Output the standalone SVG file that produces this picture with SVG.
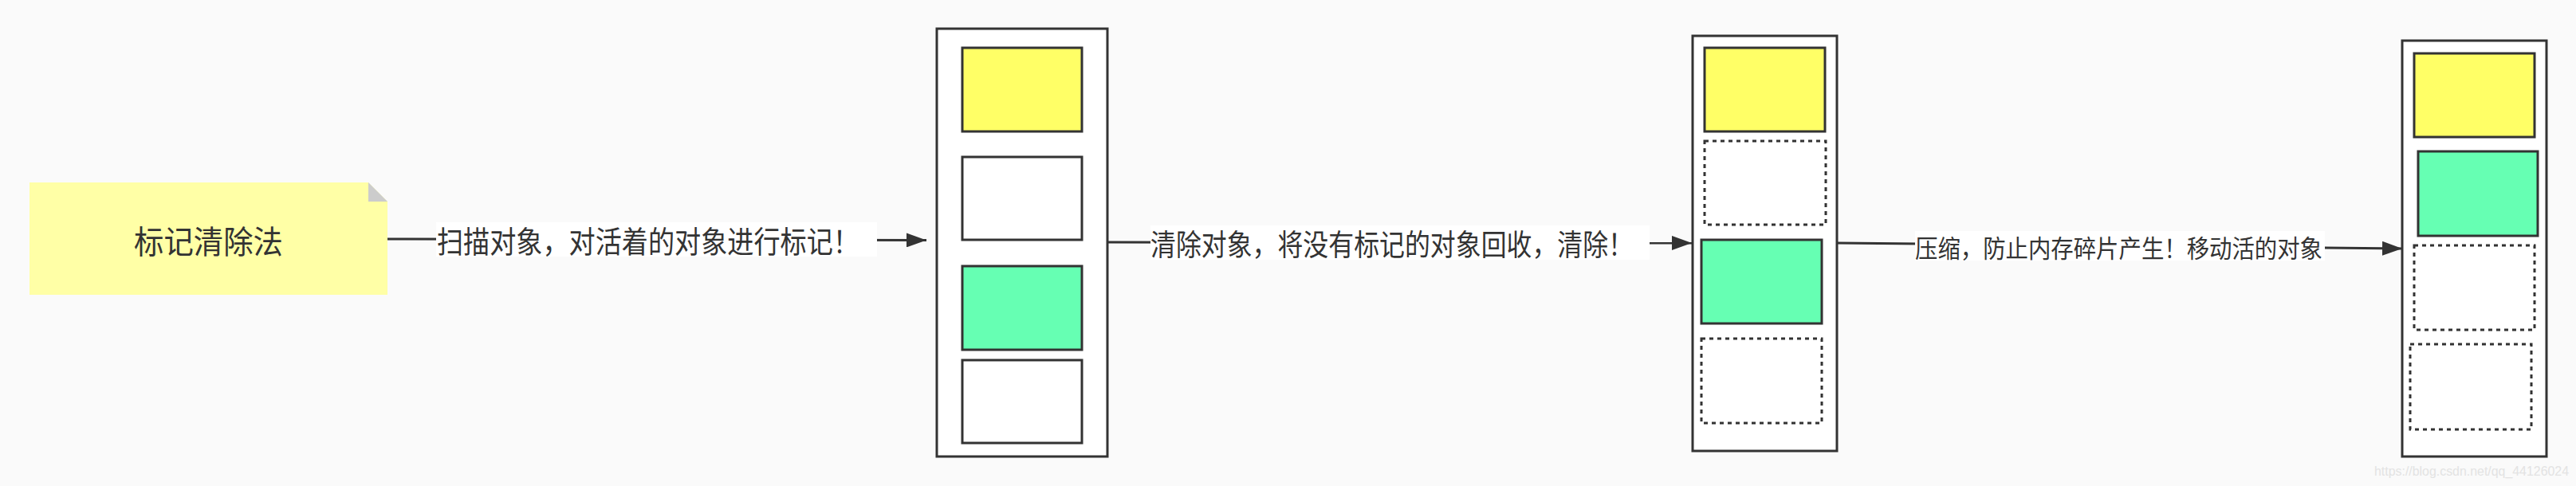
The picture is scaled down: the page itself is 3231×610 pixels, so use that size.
<svg xmlns="http://www.w3.org/2000/svg" width="3231" height="610" viewBox="0 0 3231 610">
<style>
.cjk{font-family:"Noto Sans CJK SC","Noto Sans",sans-serif;fill:#333333}
.outer{fill:#ffffff;stroke:#333333;stroke-width:3}
.cell{stroke:#333333;stroke-width:3}
.yel{fill:#ffff66}
.grn{fill:#66ffb3}
.wht{fill:#ffffff}
.dot{fill:#ffffff;stroke:#333333;stroke-width:3;stroke-dasharray:5 5}
.conn{fill:none;stroke:#333333;stroke-width:3}
.lblbg{fill:#ffffff}
</style>
<defs>
<marker id="arr" markerUnits="userSpaceOnUse" markerWidth="26" markerHeight="18" refX="25" refY="9" orient="auto">
<path d="M0,0 L25,9 L0,18 Z" fill="#333333"/>
</marker>
</defs>
<rect x="0" y="0" width="3231" height="610" fill="#fafafa"/>

<g id="note">
<path d="M37,229 L462,229 L486,253 L486,370 L37,370 Z" fill="#ffffa6"/>
<path d="M462,229 L486,253 L462,253 Z" fill="#cccccc"/>
<text class="cjk" x="261.5" y="301" font-size="40" text-anchor="middle" dominant-baseline="central" textLength="187" lengthAdjust="spacingAndGlyphs">标记清除法</text>
</g>

<g id="heap1">
<rect class="outer" x="1175" y="36" width="214" height="537"/>
<rect class="cell yel" x="1207" y="60" width="150" height="105"/>
<rect class="cell wht" x="1207" y="197" width="150" height="104"/>
<rect class="cell grn" x="1207" y="334" width="150" height="105"/>
<rect class="cell wht" x="1207" y="452" width="150" height="104"/>
</g>

<g id="heap2">
<rect class="outer" x="2123" y="45" width="181" height="521"/>
<rect class="cell yel" x="2138" y="60" width="151" height="105"/>
<rect class="dot" x="2138" y="177" width="152" height="105"/>
<rect class="cell grn" x="2134" y="301" width="151" height="105"/>
<rect class="dot" x="2134" y="425" width="151" height="106"/>
</g>

<g id="heap3">
<rect class="outer" x="3013" y="51" width="181" height="522"/>
<rect class="cell yel" x="3028" y="67" width="151" height="105"/>
<rect class="cell grn" x="3033" y="190" width="150" height="106"/>
<rect class="dot" x="3028" y="308" width="151" height="106"/>
<rect class="dot" x="3023" y="432" width="152" height="107"/>
</g>

<g id="connectors">
<line class="conn" x1="486" y1="300" x2="1162" y2="301.5" marker-end="url(#arr)"/>
<rect class="lblbg" x="547" y="279" width="553" height="43"/>
<text class="cjk" x="548" y="300" font-size="38" dominant-baseline="central" textLength="530" lengthAdjust="spacingAndGlyphs">扫描对象，对活着的对象进行标记！</text>

<line class="conn" x1="1389" y1="304" x2="2122" y2="305" marker-end="url(#arr)"/>
<rect class="lblbg" x="1443" y="283" width="626" height="43"/>
<text class="cjk" x="1443" y="305" font-size="37" dominant-baseline="central" textLength="606" lengthAdjust="spacingAndGlyphs">清除对象，将没有标记的对象回收，清除！</text>

<line class="conn" x1="2304" y1="305" x2="3013" y2="312" marker-end="url(#arr)"/>
<rect class="lblbg" x="2402" y="290" width="514" height="37"/>
<text class="cjk" x="2402" y="309.5" font-size="31" dominant-baseline="central" textLength="511" lengthAdjust="spacingAndGlyphs">压缩，防止内存碎片产生！移动活的对象</text>
</g>

<text x="2978" y="597" font-family="Liberation Sans, Arial, sans-serif" font-size="16" fill="#e3e3e3" textLength="244" lengthAdjust="spacingAndGlyphs">https://blog.csdn.net/qq_44126024</text>
</svg>
